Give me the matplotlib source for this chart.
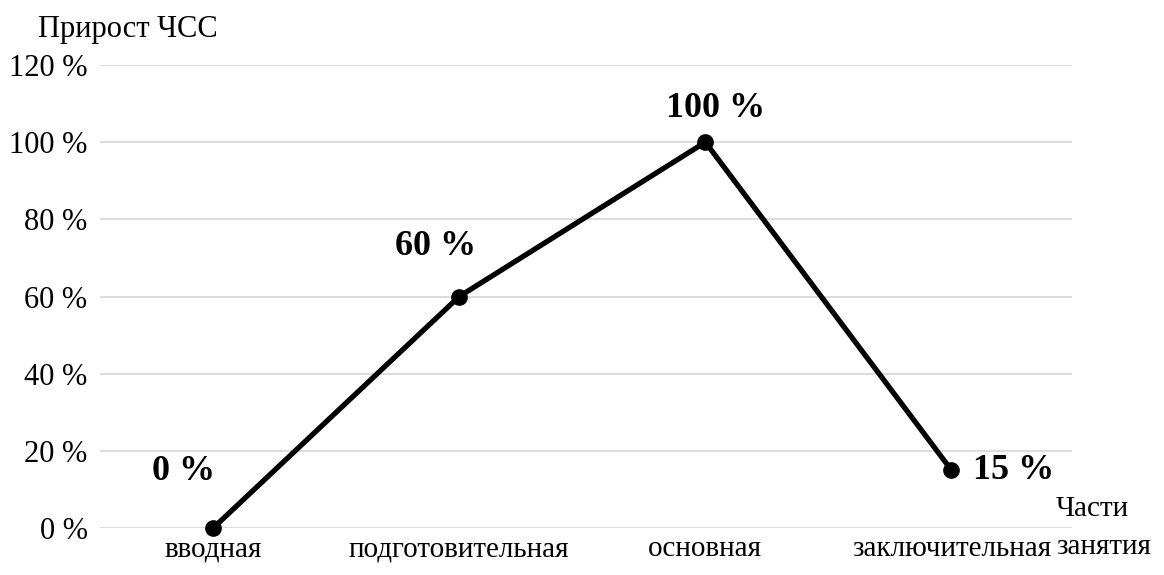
import matplotlib
matplotlib.use("Agg")
from matplotlib import pyplot as plt

# parts of a training session and heart-rate increase in each
parts = ["вводная", "подготовительная", "основная", "заключительная"]
hr_gain = [0, 60, 100, 15]
yticks = [0, 20, 40, 60, 80, 100, 120]
# label offsets in pixels (dx, dy) from each point
label_offsets = [(-30, 56), (-24, 50), (10, 34), (62, 0)]

plt.rcParams['font.family'] = ['Liberation Serif', 'DejaVu Serif']

fig = plt.figure(figsize=(11.64, 5.75), dpi=100)
ax = fig.add_axes([100 / 1164, 1 - 528 / 575, 972 / 1164, (528 - 65) / 575])

x = list(range(len(parts)))
ax.plot(x, hr_gain, color="black", linewidth=3.8, marker="o", markersize=11,
        solid_capstyle="round", zorder=3, clip_on=False)

for xi, v, (dx, dy) in zip(x, hr_gain, label_offsets):
    ax.annotate("%d %%" % v, (xi, v), xytext=(dx * 0.72, dy * 0.72),
                textcoords="offset points", ha="center", va="center",
                fontsize=26, fontweight="bold")

ax.set_xlim(-0.46, 3.49)
ax.set_ylim(0, 120)
ax.set_yticks(yticks)
ax.set_yticklabels(["%d %%" % t for t in yticks], fontsize=22)
ax.set_xticks(x)
ax.set_xticklabels(parts, fontsize=21)
ax.tick_params(length=0, pad=9)
ax.tick_params(axis="x", pad=6)
ax.grid(axis="y", color="#d9d9d9", linewidth=1.3)
ax.set_axisbelow(True)
for s in ax.spines.values():
    s.set_visible(False)

fig.text(38 / 1164, 1 - 30 / 575, "Прирост ЧСС", fontsize=22, ha="left", va="center")
fig.text(1056 / 1164, 1 - 528 / 575, "Части\nзанятия", fontsize=21, ha="left",
         va="center", linespacing=1.55)

fig.savefig("out.png", dpi=100)
